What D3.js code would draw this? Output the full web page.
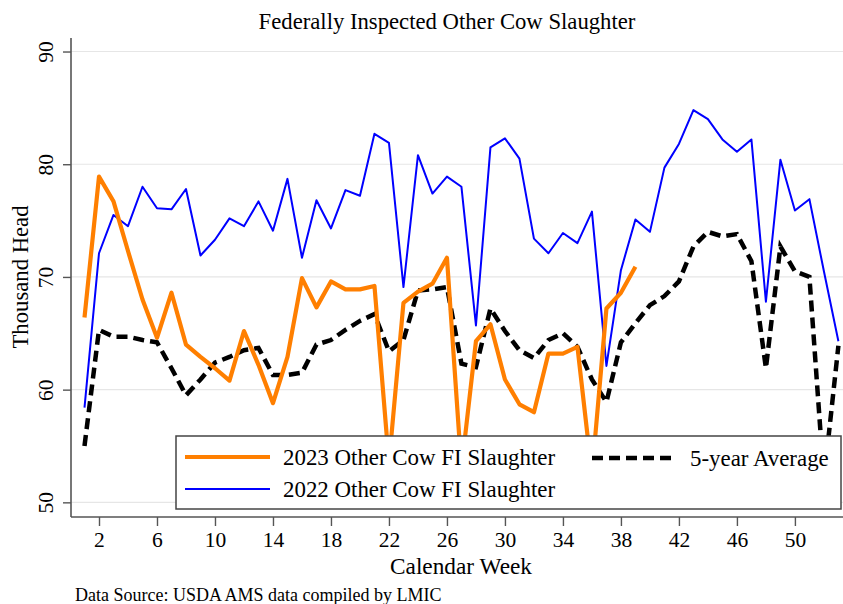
<!DOCTYPE html>
<html>
<head>
<meta charset="utf-8">
<script src="https://cdn.jsdelivr.net/npm/d3@7"></script>
<style>
  body { margin: 0; background: #fff; }
  svg { display: block; font-family: "Liberation Serif", "Times New Roman", serif; }
</style>
</head>
<body>
<div class="vis-chart"></div>
<script>
// weekly values, thousand head
var weeks = d3.range(1, 54);
var slaughter2022 = [58.4, 72.1, 75.5, 74.5, 78.0, 76.1, 76.0, 77.8, 71.9, 73.3,
  75.2, 74.5, 76.7, 74.1, 78.7, 71.7, 76.8, 74.3, 77.7, 77.2,
  82.7, 81.9, 69.1, 80.8, 77.4, 78.9, 78.0, 65.7, 81.5, 82.3,
  80.5, 73.4, 72.1, 73.9, 73.0, 75.8, 62.1, 70.6, 75.1, 74.0,
  79.7, 81.8, 84.8, 84.0, 82.2, 81.1, 82.2, 67.8, 80.4, 75.9,
  76.9, 70.5, 64.3];
var slaughter2023 = [66.4, 78.9, 76.7, 72.3, 68.0, 64.6, 68.6, 64.0, 62.9, 61.9,
  60.8, 65.2, 62.2, 58.8, 62.9, 69.9, 67.3, 69.6, 68.9, 68.9,
  69.2, 53.5, 67.7, 68.7, 69.4, 71.7, 53.0, 64.3, 65.8, 60.9,
  58.7, 58.0, 63.2, 63.2, 63.8, 52.5, 67.2, 68.6, 70.9];
var avg5yr = [55.0, 65.3, 64.7, 64.7, 64.4, 64.2, 61.9, 59.5, 60.9, 62.4,
  62.9, 63.5, 63.7, 61.3, 61.3, 61.5, 64.0, 64.4, 65.3, 66.1,
  66.7, 63.4, 64.4, 68.8, 68.9, 69.1, 62.3, 62.0, 67.2, 65.2,
  63.5, 62.8, 64.4, 65.0, 63.8, 60.9, 58.9, 64.2, 65.9, 67.5,
  68.3, 69.6, 72.7, 74.0, 73.6, 73.8, 71.4, 61.9, 72.7, 70.5,
  70.0, 52.0, 63.9];
var xTicks = [2, 6, 10, 14, 18, 22, 26, 30, 34, 38, 42, 46, 50];
var yTicks = [50, 60, 70, 80, 90];

var width = 843, height = 604;

var svg = d3.select(".vis-chart")
  .append("svg")
    .attr("width", width)
    .attr("height", height);

var x = d3.scaleLinear().domain([0, 53.8]).range([70, 850]);
var y = d3.scaleLinear().domain([48.7, 91.2]).range([517, 38]);

// grid lines
svg.append("g")
  .selectAll("line")
  .data(yTicks)
  .enter()
  .append("line")
    .attr("x1", 71).attr("x2", width)
    .attr("y1", function (d) { return y(d); })
    .attr("y2", function (d) { return y(d); })
    .attr("stroke", "#e6e6e6")
    .attr("stroke-width", 1.2);

// axes
var yAxis = svg.append("g")
  .attr("transform", "translate(71,0)")
  .call(d3.axisLeft(y).tickValues(yTicks).tickSize(8).tickFormat(d3.format("d")));
var xAxis = svg.append("g")
  .attr("transform", "translate(0,517)")
  .call(d3.axisBottom(x).tickValues(xTicks).tickSize(9).tickFormat(d3.format("d")));

[xAxis, yAxis].forEach(function (g) {
  g.select(".domain").attr("stroke", "#555").attr("stroke-width", 1.6);
  g.selectAll(".tick line").attr("stroke", "#555").attr("stroke-width", 1.4);
  g.selectAll("text")
    .attr("fill", "#000")
    .style("font-family", "Liberation Serif, Times New Roman, serif")
    .style("font-size", "21.5px");
});
xAxis.select(".domain").attr("d", "M71,0H" + width);
yAxis.select(".domain").attr("d", "M0,517V38");
xAxis.selectAll(".tick text").attr("y", 15).attr("dy", "0.71em");
yAxis.selectAll(".tick text")
  .attr("x", null).attr("dy", null)
  .attr("text-anchor", "middle")
  .attr("transform", "translate(-18,0) rotate(-90)");

// series
var line = d3.line()
  .x(function (d) { return x(d.w); })
  .y(function (d) { return y(d.v); });

function toPoints(vals) {
  return vals.map(function (v, i) { return {w: weeks[i], v: v}; });
}

svg.append("path")
  .attr("d", line(toPoints(slaughter2022)))
  .attr("fill", "none")
  .attr("stroke", "#0000ff")
  .attr("stroke-width", 2)
  .attr("stroke-linejoin", "round");

svg.append("path")
  .attr("d", line(toPoints(avg5yr)))
  .attr("fill", "none")
  .attr("stroke", "#000")
  .attr("stroke-width", 4.5)
  .attr("stroke-dasharray", "11,6");

svg.append("path")
  .attr("d", line(toPoints(slaughter2023)))
  .attr("fill", "none")
  .attr("stroke", "#ff7f00")
  .attr("stroke-width", 4.2)
  .attr("stroke-linejoin", "round");

// legend
var legend = svg.append("g");
legend.append("rect")
  .attr("x", 176).attr("y", 436)
  .attr("width", 665).attr("height", 73)
  .attr("fill", "#fff")
  .attr("stroke", "#444")
  .attr("stroke-width", 1.5);

var items = [
  {label: "2023 Other Cow FI Slaughter", color: "#ff7f00", w: 4.2, dash: null, x: 185, y: 457},
  {label: "2022 Other Cow FI Slaughter", color: "#0000ff", w: 2, dash: null, x: 185, y: 489},
  {label: "5-year Average", color: "#000", w: 4.5, dash: "11,6", x: 592, y: 458}
];
items.forEach(function (d) {
  legend.append("line")
    .attr("x1", d.x).attr("x2", d.x + 85)
    .attr("y1", d.y).attr("y2", d.y)
    .attr("stroke", d.color)
    .attr("stroke-width", d.w)
    .attr("stroke-dasharray", d.dash);
  legend.append("text")
    .attr("x", d.x + 98).attr("y", d.y + 8)
    .style("font-size", "22.9px")
    .text(d.label);
});

// titles
svg.append("text")
  .attr("x", 447).attr("y", 29)
  .attr("text-anchor", "middle")
  .style("font-size", "22.7px")
  .text("Federally Inspected Other Cow Slaughter");

svg.append("text")
  .attr("transform", "translate(28,277) rotate(-90)")
  .attr("text-anchor", "middle")
  .style("font-size", "22.7px")
  .text("Thousand Head");

svg.append("text")
  .attr("x", 461).attr("y", 574)
  .attr("text-anchor", "middle")
  .style("font-size", "23.3px")
  .text("Calendar Week");

svg.append("text")
  .attr("x", 75).attr("y", 601)
  .style("font-size", "18px")
  .text("Data Source: USDA AMS data compiled by LMIC");
</script>
</body>
</html>
